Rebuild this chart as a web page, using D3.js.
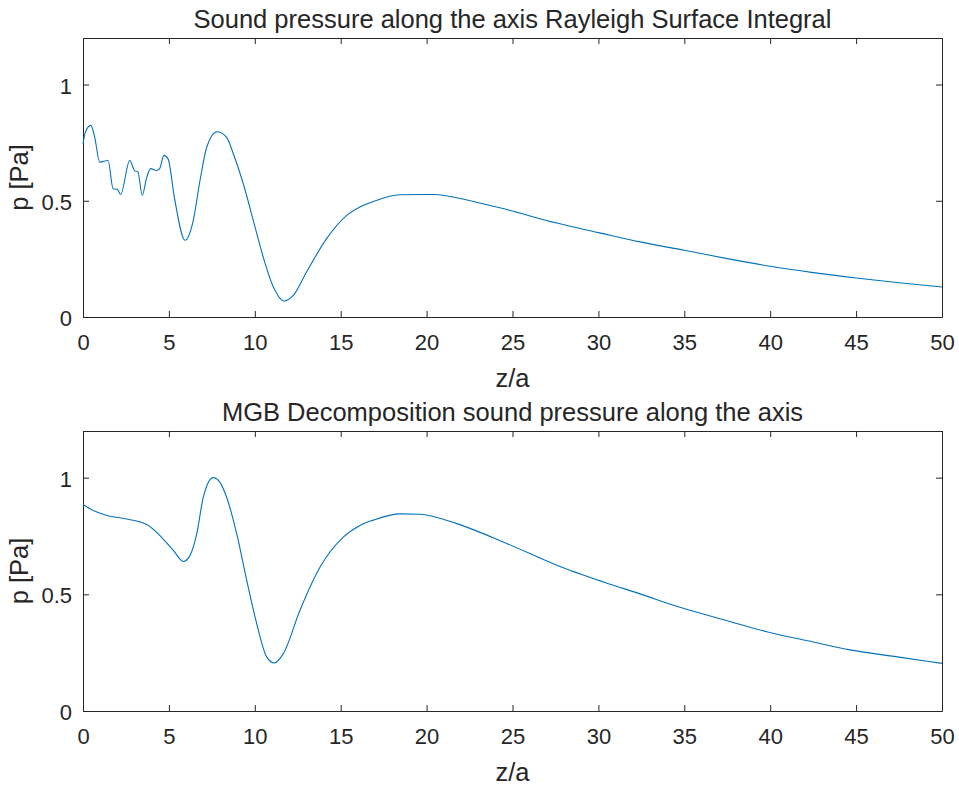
<!DOCTYPE html>
<html>
<head>
<meta charset="utf-8">
<script src="https://cdn.jsdelivr.net/npm/d3@7"></script>
<style>
  body { margin: 0; background: #fff; }
  svg { display: block; }
  .axis text { font-family: "Liberation Sans", Arial, sans-serif; font-size: 22px; fill: #262626; }
  .axis path, .axis line { stroke: #262626; }
  .lbl { font-family: "Liberation Sans", Arial, sans-serif; font-size: 25.5px; fill: #262626; }
</style>
</head>
<body>
<div id="chart"></div>
<script>

// Rayleigh surface integral
const rayleighZ = [0, 0.14, 0.45, 0.68, 0.97, 1.46, 1.75, 2.0, 2.19, 2.72, 3.0, 3.2, 3.45, 3.69, 3.94, 4.27, 4.46, 4.71, 4.95,
    5.33, 5.94, 6.42, 6.81, 7.2, 7.8, 8.36, 8.75, 9.33, 9.91, 10.49, 11.08, 11.7, 12.24, 13.02, 14.18, 15.35, 16.12, 16.9,
    18.45, 20.39, 22.72, 24.66, 27.57, 30.0, 32.42, 35.0, 37.5, 40.0, 42.5, 45.0, 47.5, 50.0]
const rayleighP = [0.745, 0.795, 0.824, 0.774, 0.666, 0.673, 0.552, 0.549, 0.527, 0.673, 0.63, 0.623, 0.523, 0.595, 0.638, 0.63, 0.638, 0.695, 0.68,
    0.509, 0.33, 0.416, 0.587, 0.73, 0.797, 0.773, 0.702, 0.573, 0.416, 0.258, 0.129, 0.069, 0.093, 0.195, 0.337, 0.437, 0.473, 0.497,
    0.526, 0.527, 0.497, 0.462, 0.404, 0.363, 0.323, 0.287, 0.251, 0.218, 0.191, 0.168, 0.147, 0.129]

// MGB decomposition
const mgbZ = [0, 0.6, 1.38, 2.54, 3.71, 4.48, 5.26, 5.84, 6.23, 6.62, 7.0, 7.58, 7.97, 8.36, 8.95, 9.53, 10.11, 10.69, 11.14,
    11.66, 12.63, 13.8, 15.15, 16.12, 16.9, 18.45, 19.6, 21.75, 24.66, 27.57, 30.3, 32.42, 34.94, 37.5, 39.8, 42.5, 44.64, 47.5, 50.0]
const mgbP = [0.885, 0.859, 0.838, 0.823, 0.799, 0.752, 0.688, 0.641, 0.667, 0.759, 0.916, 1.0, 0.98, 0.916, 0.759, 0.56, 0.375, 0.232, 0.206,
    0.246, 0.432, 0.617, 0.745, 0.795, 0.818, 0.845, 0.843, 0.803, 0.718, 0.625, 0.553, 0.502, 0.44, 0.387, 0.34, 0.296, 0.262, 0.231, 0.204]

const xTicks = [0, 5, 10, 15, 20, 25, 30, 35, 40, 45, 50]
const yTicks = [0, 0.5, 1]

const panels = [
    {title: 'Sound pressure along the axis Rayleigh Surface Integral', z: rayleighZ, p: rayleighP, top: 38, bottom: 317},
    {title: 'MGB Decomposition sound pressure along the axis', z: mgbZ, p: mgbP, top: 431, bottom: 711}
]

const W = 959, H = 785
const left = 83, right = 942

const svg = d3.select('#chart').append('svg')
    .attr('width', W)
    .attr('height', H)

const x = d3.scaleLinear().domain([0, 50]).range([left, right])

panels.forEach(panel => {
    let y = d3.scaleLinear().domain([0, 1.2]).range([panel.bottom, panel.top])
    let g = svg.append('g')

    // bottom axis with labels, ticks pointing inside
    let xAxis = g.append('g')
        .attr('class', 'axis')
        .attr('transform', `translate(0,${panel.bottom})`)
        .call(d3.axisBottom(x).tickValues(xTicks).tickSize(-6).tickSizeOuter(0).tickFormat(d3.format('d')))
    xAxis.selectAll('text').attr('dy', null).attr('y', 33)

    // top axis, ticks only
    g.append('g')
        .attr('class', 'axis')
        .attr('transform', `translate(0,${panel.top})`)
        .call(d3.axisTop(x).tickValues(xTicks).tickSize(-6).tickSizeOuter(0).tickFormat(''))

    let yAxis = g.append('g')
        .attr('class', 'axis')
        .attr('transform', `translate(${left},0)`)
        .call(d3.axisLeft(y).tickValues(yTicks).tickSize(-6).tickSizeOuter(0).tickFormat(d3.format('')))
    yAxis.selectAll('text').attr('dy', null).attr('x', -11).attr('y', 8.5)

    g.append('g')
        .attr('class', 'axis')
        .attr('transform', `translate(${right},0)`)
        .call(d3.axisRight(y).tickValues(yTicks).tickSize(-6).tickSizeOuter(0).tickFormat(''))

    g.selectAll('.axis path').attr('stroke-width', 1)

    // curve
    let data = panel.z.map((d, i) => ({z: d, p: panel.p[i]}))
    g.append('path')
        .datum(data)
        .attr('fill', 'none')
        .attr('stroke', '#0072BD')
        .attr('stroke-width', 1.1)
        .attr('d', d3.line().x(d => x(d.z)).y(d => y(d.p)).curve(d3.curveMonotoneX))

    // title + labels
    g.append('text')
        .attr('class', 'lbl')
        .attr('x', (left + right) / 2)
        .attr('y', panel.top - 10)
        .attr('text-anchor', 'middle')
        .text(panel.title)

    g.append('text')
        .attr('class', 'lbl')
        .attr('x', (left + right) / 2)
        .attr('y', panel.bottom + 70)
        .attr('text-anchor', 'middle')
        .text('z/a')

    g.append('text')
        .attr('class', 'lbl')
        .attr('transform', `translate(28,${(panel.top + panel.bottom) / 2}) rotate(-90)`)
        .attr('text-anchor', 'middle')
        .text('p [Pa]')
})

</script>
</body>
</html>
